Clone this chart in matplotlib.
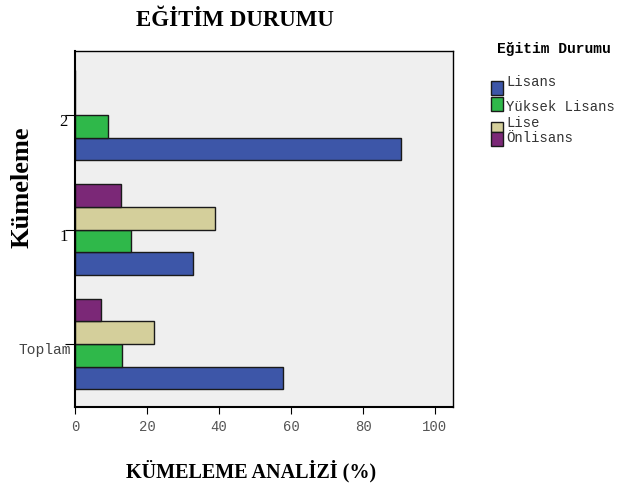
import matplotlib.pyplot as plt
import matplotlib.patches as mpatches
import matplotlib.transforms as mtransforms
import numpy as np

# Veriler (Kümeleme analizi, %)
gruplar = ['Toplam', '1', '2']
lisans = [57.9, 32.7, 90.5]
yuksek_lisans = [13.0, 15.6, 9.3]
lise = [22.0, 39.0, 0.0]
onlisans = [7.1, 12.7, 0.0]
seri_adlari = ['Lisans', 'Yüksek Lisans', 'Lise', 'Önlisans']
renkler = ['#3d56a8', '#2fb84a', '#d4cf9b', '#7b2877']

fig = plt.figure(figsize=(6.2, 4.89), dpi=100)
ax = fig.add_axes([75/620, 1 - 408/489, (453 - 75)/620, (408 - 52)/489])
ax.set_facecolor('#efefef')

y = np.arange(len(gruplar))
h = 0.197
seriler = [lisans, yuksek_lisans, lise, onlisans]
ofsetler = [-1.5*h, -0.5*h, 0.5*h, 1.5*h]
for vals, off, c in zip(seriler, ofsetler, renkler):
    ax.barh(y + off, vals, height=h, color=c, edgecolor='#1a1a1a', linewidth=1)

ax.set_xlim(0, 105)
ax.set_ylim(-0.55, 2.56)
ax.set_xticks([0, 20, 40, 60, 80, 100])
ax.set_xticklabels(['0', '20', '40', '60', '80', '100'], family='Liberation Mono',
                   fontsize=10, color='#555555')
ax.set_yticks(y)
ax.set_yticklabels([])
# y etiketleri biraz aşağıda duruyor
for yi, g in zip(y, gruplar):
    if g == 'Toplam':
        kaydir = mtransforms.ScaledTranslation(-4/100, -5/100, fig.dpi_scale_trans)
        ax.text(0, yi, g, transform=ax.get_yaxis_transform() + kaydir,
                family='Liberation Mono', fontsize=10.5, color='#444444',
                ha='right', va='center')
    else:
        kaydir = mtransforms.ScaledTranslation(-7/100, -6/100, fig.dpi_scale_trans)
        ax.text(0, yi, g, transform=ax.get_yaxis_transform() + kaydir,
                family='Liberation Serif', fontsize=12, ha='right', va='center')
ax.tick_params(axis='y', length=7, width=0.8)
ax.tick_params(axis='x', length=5, width=0.8, pad=4)
for s in ax.spines.values():
    s.set_linewidth(1)
ax.spines['left'].set_linewidth(1.5)
ax.spines['bottom'].set_linewidth(1.5)

# Başlıklar
fig.text(235/620, 1 - 20/489, 'EĞİTİM DURUMU', family='Liberation Serif',
         fontweight='bold', fontsize=16.5, ha='center', va='center')
fig.text(251/620, 1 - 471/489, 'KÜMELEME ANALİZİ (%)', family='Liberation Serif',
         fontweight='bold', fontsize=14.5, ha='center', va='center')
fig.text(22/620, 1 - 187/489, 'Kümeleme', family='Liberation Serif',
         fontweight='bold', fontsize=19, rotation=90, ha='center', va='center')

# Lejant (elle)
fig.text(497/620, 1 - 49/489, 'Eğitim Durumu', family='Liberation Mono',
         fontweight='bold', fontsize=10.5, ha='left', va='center')
patch_y = [(82, 96), (98, 112), (123, 133), (133, 147)]
text_y = [82, 107, 123, 138]
for ad, c, (y0, y1), ty in zip(seri_adlari, renkler, patch_y, text_y):
    fig.patches.append(mpatches.Rectangle((491/620, 1 - y1/489), 12/620, (y1 - y0)/489,
                                          transform=fig.transFigure, facecolor=c,
                                          edgecolor='#1a1a1a', linewidth=1))
    fig.text(506/620, 1 - ty/489, ad, family='Liberation Mono', fontsize=10,
             color='#333333', ha='left', va='center')

plt.savefig('out.png', dpi=100)
